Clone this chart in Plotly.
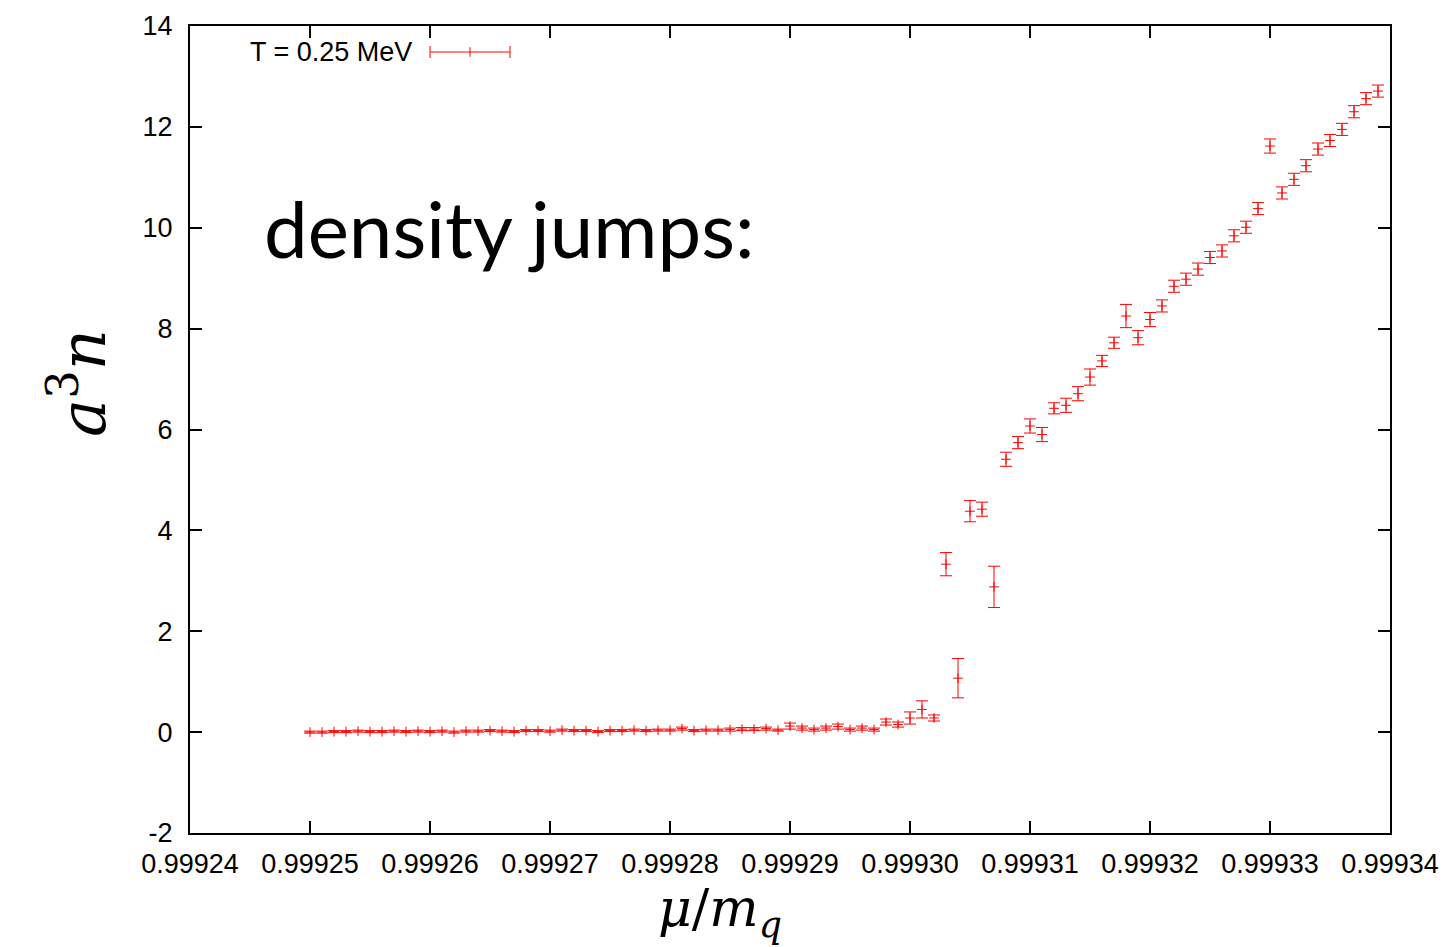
import plotly.graph_objects as go

mu = [
    0.999250, 0.999251, 0.999252, 0.999253, 0.999254, 0.999255, 0.999256, 0.999257, 0.999258, 0.999259,
    0.999260, 0.999261, 0.999262, 0.999263, 0.999264, 0.999265, 0.999266, 0.999267, 0.999268, 0.999269,
    0.999270, 0.999271, 0.999272, 0.999273, 0.999274, 0.999275, 0.999276, 0.999277, 0.999278, 0.999279,
    0.999280, 0.999281, 0.999282, 0.999283, 0.999284, 0.999285, 0.999286, 0.999287, 0.999288, 0.999289,
    0.999290, 0.999291, 0.999292, 0.999293, 0.999294, 0.999295, 0.999296, 0.999297, 0.999298, 0.999299,
    0.999300, 0.999301, 0.999302, 0.999303, 0.999304, 0.999305, 0.999306, 0.999307, 0.999308, 0.999309,
    0.999310, 0.999311, 0.999312, 0.999313, 0.999314, 0.999315, 0.999316, 0.999317, 0.999318, 0.999319,
    0.999320, 0.999321, 0.999322, 0.999323, 0.999324, 0.999325, 0.999326, 0.999327, 0.999328, 0.999329,
    0.999330, 0.999331, 0.999332, 0.999333, 0.999334, 0.999335, 0.999336, 0.999337, 0.999338, 0.999339,
]

density = [
    0.00, 0.00, 0.01, 0.01, 0.02, 0.01, 0.01, 0.02, 0.01, 0.02,
    0.01, 0.02, 0.00, 0.02, 0.02, 0.03, 0.02, 0.01, 0.03, 0.03,
    0.02, 0.04, 0.03, 0.03, 0.01, 0.03, 0.03, 0.04, 0.03, 0.04,
    0.04, 0.07, 0.03, 0.04, 0.04, 0.05, 0.06, 0.06, 0.07, 0.04,
    0.12, 0.08, 0.05, 0.08, 0.11, 0.05, 0.08, 0.05, 0.20, 0.15,
    0.28, 0.45, 0.28, 3.33, 1.07, 4.38, 4.42, 2.88, 5.41, 5.74,
    6.07, 5.90, 6.42, 6.48, 6.71, 7.04, 7.36, 7.72, 8.25, 7.82,
    8.18, 8.45, 8.84, 8.98, 9.18, 9.41, 9.54, 9.84, 10.01, 10.38,
    11.62, 10.69, 10.96, 11.23, 11.56, 11.73, 11.95, 12.30, 12.56, 12.71,
]

density_err = [
    0.02, 0.02, 0.02, 0.02, 0.02, 0.02, 0.02, 0.02, 0.02, 0.02,
    0.02, 0.02, 0.02, 0.02, 0.02, 0.02, 0.02, 0.02, 0.02, 0.02,
    0.02, 0.02, 0.02, 0.02, 0.02, 0.02, 0.02, 0.02, 0.02, 0.02,
    0.02, 0.03, 0.02, 0.02, 0.02, 0.03, 0.03, 0.03, 0.03, 0.02,
    0.06, 0.04, 0.03, 0.04, 0.05, 0.03, 0.04, 0.03, 0.06, 0.05,
    0.12, 0.17, 0.06, 0.23, 0.39, 0.21, 0.14, 0.41, 0.14, 0.12,
    0.14, 0.14, 0.11, 0.14, 0.14, 0.16, 0.11, 0.11, 0.23, 0.14,
    0.14, 0.12, 0.12, 0.12, 0.12, 0.12, 0.12, 0.12, 0.12, 0.12,
    0.14, 0.12, 0.12, 0.12, 0.12, 0.12, 0.12, 0.12, 0.12, 0.12,
]

x_ticks = [0.99924, 0.99925, 0.99926, 0.99927, 0.99928, 0.99929,
           0.99930, 0.99931, 0.99932, 0.99933, 0.99934]
x_tick_labels = ["0.99924", "0.99925", "0.99926", "0.99927", "0.99928", "0.99929",
                 "0.99930", "0.99931", "0.99932", "0.99933", "0.99934"]
y_ticks = [-2, 0, 2, 4, 6, 8, 10, 12, 14]
y_tick_labels = ["-2", "0", "2", "4", "6", "8", "10", "12", "14"]

series_label = "T = 0.25 MeV"
RED = "#ff0000"

fig = go.Figure()
fig.add_trace(go.Scatter(
    x=mu, y=density, mode="markers", name=series_label,
    marker=dict(symbol="cross-thin", size=7, color=RED, line=dict(color=RED, width=1)),
    error_y=dict(type="data", array=density_err, visible=True, color=RED, thickness=1, width=6),
    showlegend=False,
))

axis_font = dict(family="Liberation Sans, Arial, sans-serif", size=27, color="black")

fig.update_layout(
    width=1445, height=947,
    margin=dict(l=190, r=55, t=26, b=114),
    paper_bgcolor="white", plot_bgcolor="white",
    xaxis=dict(
        range=[0.99924, 0.99934], tickvals=x_ticks, ticktext=x_tick_labels,
        ticks="inside", ticklen=12, tickwidth=1.5, tickcolor="black",
        showline=True, linecolor="black", linewidth=2, mirror="ticks",
        showgrid=False, zeroline=False, tickfont=axis_font, ticklabelstandoff=6,
        automargin=False,
    ),
    yaxis=dict(
        range=[-2, 14], tickvals=y_ticks, ticktext=y_tick_labels,
        ticks="inside", ticklen=12, tickwidth=1.5, tickcolor="black",
        showline=True, linecolor="black", linewidth=2, mirror="ticks",
        showgrid=False, zeroline=False, tickfont=axis_font, ticklabelstandoff=10,
        automargin=False,
    ),
)

# axis titles
fig.add_annotation(
    text="<i>μ</i>/<i>m<sub>q</sub></i>", xref="paper", yref="paper",
    x=(720 - 190) / 1200, y=-(912 - 833) / 807, xanchor="center", yanchor="middle",
    showarrow=False, font=dict(family="DejaVu Serif, Liberation Serif, serif", size=52, color="black"),
)
fig.add_annotation(
    text="<i>a</i><sup>3</sup><i>n</i>", xref="paper", yref="paper",
    x=-(190 - 78) / 1200, y=(833 - 383) / 807, xanchor="center", yanchor="middle",
    textangle=-90, showarrow=False,
    font=dict(family="DejaVu Serif, Liberation Serif, serif", size=64, color="black"),
)

# big heading
fig.add_annotation(
    text="density jumps:", xref="paper", yref="paper",
    x=(262 - 190) / 1200, y=(833 - 228) / 807, xanchor="left", yanchor="middle",
    showarrow=False, font=dict(family="Lato, Open Sans, sans-serif", size=78, color="black"),
)

# custom legend
ly = (833 - 52) / 807
cap = 6 / 807
fig.add_annotation(
    text=series_label, xref="paper", yref="paper",
    x=(414 - 190) / 1200, y=ly, xanchor="right", yanchor="middle",
    showarrow=False, font=axis_font,
)
x0, x1, xm = (430 - 190) / 1200, (510 - 190) / 1200, (470 - 190) / 1200
for shp in [
    dict(x0=x0, x1=x1, y0=ly, y1=ly),
    dict(x0=x0, x1=x0, y0=ly - cap, y1=ly + cap),
    dict(x0=x1, x1=x1, y0=ly - cap, y1=ly + cap),
    dict(x0=xm, x1=xm, y0=ly - cap * 0.8, y1=ly + cap * 0.8),
]:
    fig.add_shape(type="line", xref="paper", yref="paper",
                  line=dict(color=RED, width=1), **shp)

fig.write_html("out.html")
